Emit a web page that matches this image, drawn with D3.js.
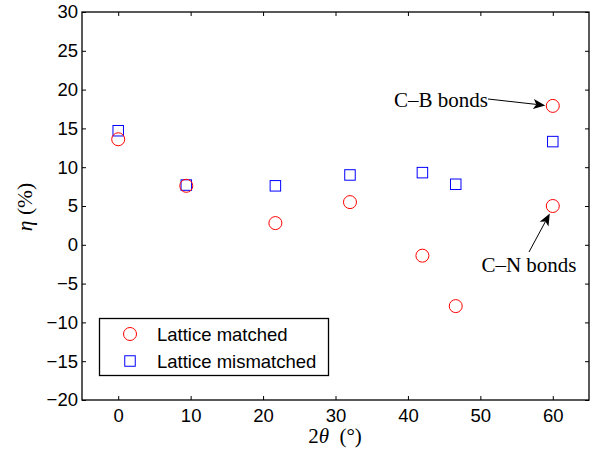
<!DOCTYPE html>
<html><head><meta charset="utf-8">
<script src="https://cdn.jsdelivr.net/npm/d3@7"></script>
<style>body{margin:0;background:#fff}svg{display:block}</style>
</head><body>
<script>
const matchedX = [0, 9.4, 21.7, 32.0, 42.0, 46.6, 60, 60];
const matchedY = [13.6, 7.6, 2.8, 5.5, -1.4, -7.9, 17.9, 5.0];
const mismatchedX = [0, 9.4, 21.7, 32.0, 42.0, 46.6, 60];
const mismatchedY = [14.7, 7.7, 7.6, 9.0, 9.3, 7.8, 13.3];
const xTicks = [0, 10, 20, 30, 40, 50, 60];
const yTicks = [-20, -15, -10, -5, 0, 5, 10, 15, 20, 25, 30];
const legendLabels = ["Lattice matched", "Lattice mismatched"];

const W = 595, H = 456;
const L = 82, R = 589, T = 12, B = 400;
const svg = d3.select("body").append("svg").attr("width", W).attr("height", H);
const x = d3.scaleLinear().domain([-5, 65]).range([L, R]);
const y = d3.scaleLinear().domain([-20, 30]).range([B, T]);

const sans = "Liberation Sans, Arial, sans-serif";
const serif = "Liberation Serif, Times New Roman, serif";
const fs = 18.5;

function styleAxis(g, labels) {
  g.select(".domain").remove();
  g.selectAll("line").attr("stroke", "#000").attr("stroke-width", 1);
  g.selectAll("text").attr("font-family", sans).attr("font-size", fs).attr("fill", "#000");
  if (!labels) g.selectAll("text").remove();
}
const tl = 4;
svg.append("g").attr("transform", `translate(0,${B})`)
  .call(d3.axisBottom(x).tickValues(xTicks).tickSize(-tl).tickPadding(9).tickFormat(d3.format("d")))
  .call(g => styleAxis(g, true));
svg.append("g").attr("transform", `translate(0,${T})`)
  .call(d3.axisTop(x).tickValues(xTicks).tickSize(-tl).tickFormat(""))
  .call(g => styleAxis(g, false));
svg.append("g").attr("transform", `translate(${L},0)`)
  .call(d3.axisLeft(y).tickValues(yTicks).tickSize(-tl).tickPadding(4).tickFormat(d => d < 0 ? "\u2212" + Math.abs(d) : d))
  .call(g => styleAxis(g, true));
svg.append("g").attr("transform", `translate(${R},0)`)
  .call(d3.axisRight(y).tickValues(yTicks).tickSize(-tl).tickFormat(""))
  .call(g => styleAxis(g, false));

svg.append("rect").attr("x", L).attr("y", T).attr("width", R - L).attr("height", B - T)
  .attr("fill", "none").attr("stroke", "#000").attr("stroke-width", 1.3);

// markers
const red = "#ff0000", blue = "#0000ff";
const sq = 10.5, cr = 6.5;
svg.append("g").selectAll("rect").data(mismatchedX.map((d, i) => [d, mismatchedY[i]])).join("rect")
  .attr("x", d => x(d[0]) - sq / 2).attr("y", d => y(d[1]) - sq / 2)
  .attr("width", sq).attr("height", sq).attr("fill", "none").attr("stroke", blue).attr("stroke-width", 1);
svg.append("g").selectAll("circle").data(matchedX.map((d, i) => [d, matchedY[i]])).join("circle")
  .attr("cx", d => x(d[0])).attr("cy", d => y(d[1])).attr("r", cr)
  .attr("fill", "none").attr("stroke", red).attr("stroke-width", 1);

// annotations
function arrow(x1, y1, x2, y2) {
  const ang = Math.atan2(y2 - y1, x2 - x1);
  const len = 12, wid = 5, back = 9;
  svg.append("line").attr("x1", x1).attr("y1", y1)
    .attr("x2", x2 - Math.cos(ang) * back).attr("y2", y2 - Math.sin(ang) * back)
    .attr("stroke", "#000").attr("stroke-width", 1);
  const p = (a, b) => [x2 + Math.cos(ang) * a - Math.sin(ang) * b, y2 + Math.sin(ang) * a + Math.cos(ang) * b];
  const pts = [p(0, 0), p(-len, wid), p(-back, 0), p(-len, -wid)];
  svg.append("path").attr("d", "M" + pts.map(q => q.join(",")).join("L") + "Z").attr("fill", "#000");
}
const afs = 21;
const cbX = x(60), cbY = y(matchedY[6]);
arrow(488, 99, cbX - cr - 1, cbY - 0.5);
svg.append("text").attr("x", 488).attr("y", 107).attr("text-anchor", "end")
  .attr("font-family", serif).attr("font-size", afs).text("C\u2013B bonds");
const cnY = y(matchedY[7]);
arrow(529, 252, x(60) - 3, cnY + cr + 1);
svg.append("text").attr("x", 529).attr("y", 272).attr("text-anchor", "middle")
  .attr("font-family", serif).attr("font-size", afs).text("C\u2013N bonds");

// axis titles
const xt = svg.append("text").attr("x", 335).attr("y", 443).attr("text-anchor", "middle")
  .attr("font-family", serif).attr("font-size", 21);
xt.append("tspan").text("2");
xt.append("tspan").attr("font-style", "italic").text("\u03B8");
xt.append("tspan").text("\u2002(\u00B0)");
const yt = svg.append("text").attr("transform", "translate(32,207) rotate(-90)").attr("text-anchor", "middle")
  .attr("font-family", serif).attr("font-size", 21.5);
yt.append("tspan").attr("font-style", "italic").text("\u03B7");
yt.append("tspan").text(" (%)");

// legend
const lg = svg.append("g");
lg.append("rect").attr("x", 99.5).attr("y", 318.5).attr("width", 229).attr("height", 57)
  .attr("fill", "#fff").attr("stroke", "#000").attr("stroke-width", 1.3);
const ly = [334, 361];
lg.append("circle").attr("cx", 130).attr("cy", ly[0]).attr("r", cr).attr("fill", "none").attr("stroke", red);
lg.append("rect").attr("x", 130 - sq / 2).attr("y", ly[1] - sq / 2).attr("width", sq).attr("height", sq)
  .attr("fill", "none").attr("stroke", blue);
lg.selectAll("text.l").data(legendLabels).join("text").attr("class", "l")
  .attr("x", 157).attr("y", (d, i) => ly[i] + 6.5).attr("font-family", sans).attr("font-size", 18.5).text(d => d);
</script>
</body></html>
